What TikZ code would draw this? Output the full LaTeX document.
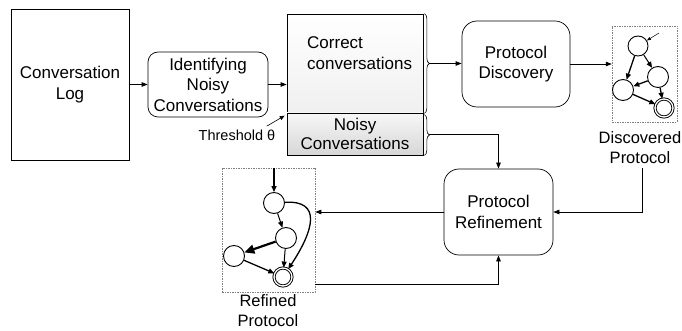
\documentclass[tikz,border=0pt]{standalone}
\usepackage{fontspec}
\setmainfont{Liberation Sans}
\usetikzlibrary{arrows.meta,decorations.pathreplacing}

\begin{document}
\begin{tikzpicture}[x=1pt,y=-1pt,
  font=\fontsize{17}{20.5}\selectfont,
  box/.style={draw, line width=0.7pt, inner sep=0pt, align=center},
  roundbox/.style={box, rounded corners=12pt},
  arr/.style={-{Triangle[length=6pt,width=4.5pt]}, line width=0.7pt},
  frame/.style={draw=gray, dash pattern=on 1.5pt off 1pt, line width=0.5pt},
  caption/.style={align=center, inner sep=0pt, font=\fontsize{16.5}{20}\selectfont},
  st/.style={circle, draw, line width=0.9pt, minimum size=21pt, inner sep=0pt},
  acc/.style={st, double, double distance=1.3pt, minimum size=18pt},
  tr/.style={-{Triangle[length=6pt,width=5pt]}, line width=1.3pt},
  brc/.style={decorate, decoration={brace, amplitude=5pt}, line width=0.6pt},
]
\useasboundingbox (0,0) rectangle (682,331);

% main boxes
\node[box, minimum width=118pt, minimum height=151pt] (log) at (70,84.5) {Conversation\\Log};
\node[roundbox, rounded corners=10pt, minimum width=120pt, minimum height=65pt] (ident) at (208,84.5) {Identifying\\Noisy\\Conversations};
\node[box, minimum width=136pt, minimum height=99pt, top color=white, middle color=white, bottom color=gray!12] (correct) at (355,63.5) {};
\node[align=left, anchor=west, inner sep=0pt] (ctext) at (307,53) {Correct\\conversations};
\node[box, minimum width=136pt, minimum height=42pt, top color=gray!6, bottom color=gray!32,
      font=\fontsize{17}{19}\selectfont] (noisy) at (355,134) {Noisy\\Conversations};
\node[roundbox, rounded corners=15pt, minimum width=108pt, minimum height=86pt] (pd) at (516,64) {Protocol\\Discovery};
\node[roundbox, rounded corners=15pt, minimum width=109pt, minimum height=86pt] (pr) at (498.5,212) {Protocol\\Refinement};

% protocol frames and their captions
\node[frame, minimum width=65pt, minimum height=96pt] (dframe) at (644.5,74) {};
\node[frame, minimum width=93pt, minimum height=124pt] (rframe) at (268.5,230) {};
\node[caption] (dlabel) at (640,147.5) {Discovered\\Protocol};
\node[caption] (rlabel) at (268,311) {Refined\\Protocol};
\node (thr) at (237,135) {\fontsize{14.5}{17}\selectfont Threshold θ};

% braces grouping the two conversation sets
\draw[brc] ([xshift=1pt]correct.north east) -- ([xshift=1pt]correct.south east);
\draw[brc] ([xshift=1pt,yshift=-2pt]noisy.north east) -- ([xshift=1pt]noisy.south east);
\coordinate (ctip) at ([xshift=6pt]correct.east);
\coordinate (ntip) at ([xshift=6pt]noisy.east);

% flow
\draw[arr] (log) -- (ident);
\draw[arr] (ident.east) -- (ident.east -| correct.west);
\draw[-{Triangle[length=5pt,width=4pt]}, line width=0.6pt] ([xshift=-12pt]thr.north east) -- ([shift={(-2,3)}]noisy.north west);
\draw[arr] (ctip) -- (ctip -| pd.west);
\draw[arr] (ntip) -| (pr.north);
\draw[arr] (pd) -- (pd.east -| dframe.west);
\draw[arr] ([xshift=2pt,yshift=-4pt]dlabel.south) |- (pr.east);
\draw[arr] (pr.west) -- (pr.west -| rframe.east);
\draw[arr] ([yshift=8pt]rframe.south east) -| (pr.south);

% discovered protocol
\node[st, minimum size=20pt] (a) at (638,46) {};
\node[st] (b) at (658,77) {};
\node[st] (c) at (623,90) {};
\node[acc] (d) at (664,108) {};
\coordinate (a0) at (659,33);
\draw[-{Triangle[length=4pt,width=3pt]}, line width=0.5pt] (a0) -- (a);
\draw[tr] (a) -- (c);
\draw[tr, line width=1pt] (a) -- (b);
\draw[tr] (b) -- (c);
\draw[tr] (b) -- (d);
\draw[tr] (c) -- (d);

% refined protocol
\node[st] (n1) at (274,203) {};
\node[st] (n2) at (286,238) {};
\node[st] (n3) at (234,256) {};
\node[acc] (n4) at (283,277) {};
\draw[tr] (n1 |- rframe.north) -- (n1);
\draw[tr, line width=1pt] (n1) -- (n2);
\draw[-{Triangle[length=10pt,width=9pt]}, line width=2.2pt] (n2) -- (n3);
\draw[tr, line width=1pt] (n2) -- (n4);
\draw[tr] (n3) -- (n4);
\draw[tr] (n1) .. controls +(48,-3) and +(31,-47) .. (n4);
\end{tikzpicture}
\end{document}
